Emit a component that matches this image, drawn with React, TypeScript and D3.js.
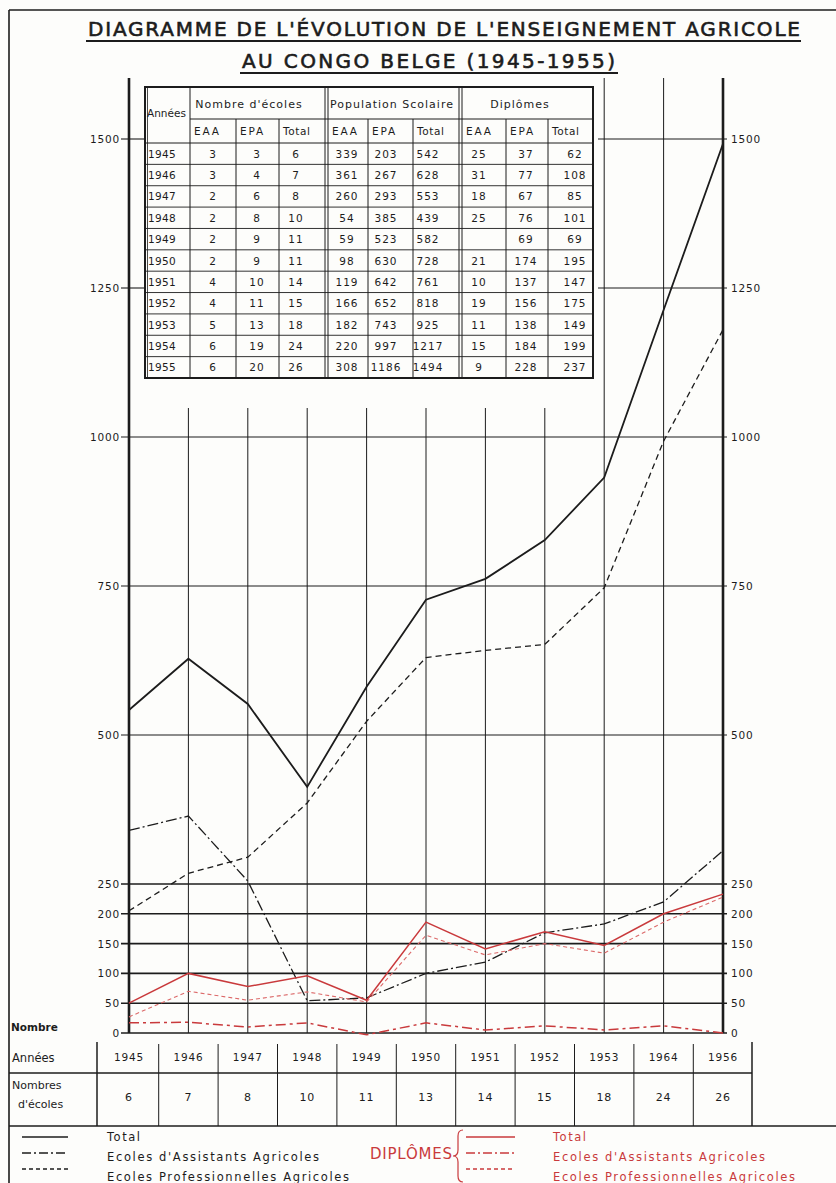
import React from 'react';
import * as d3 from 'd3';

// ---------- DATA ----------
const years = [1945, 1946, 1947, 1948, 1949, 1950, 1951, 1952, 1953, 1954, 1955];
const yearRowLabels = ['1945', '1946', '1947', '1948', '1949', '1950', '1951', '1952', '1953', '1964', '1956'];
const schoolRowCounts = ['6', '7', '8', '10', '11', '13', '14', '15', '18', '24', '26'];

// plotted series
const popTotal = [542, 628, 552, 413, 581, 727, 762, 827, 932, 1213, 1492];
const popEAA = [340, 364, 255, 54, 59, 100, 119, 168, 183, 220, 306];
const popEPA = [205, 268, 295, 386, 523, 630, 642, 652, 747, 993, 1180];
const dipTotal = [50, 100, 78, 96, 55, 186, 141, 170, 147, 200, 233];
const dipEAA = [17, 18, 10, 17, -3, 17, 5, 12, 5, 12, 0];
const dipEPA = [27, 70, 55, 69, 52, 164, 131, 150, 134, 186, 228];

const yTicks = [0, 50, 100, 150, 200, 250, 500, 750, 1000, 1250, 1500];

// table
const tYears = ['1945', '1946', '1947', '1948', '1949', '1950', '1951', '1952', '1953', '1954', '1955'];
const schoolsEAA = ['3', '3', '2', '2', '2', '2', '4', '4', '5', '6', '6'];
const schoolsEPA = ['3', '4', '6', '8', '9', '9', '10', '11', '13', '19', '20'];
const schoolsTot = ['6', '7', '8', '10', '11', '11', '14', '15', '18', '24', '26'];
const pupilsEAA = ['339', '361', '260', '54', '59', '98', '119', '166', '182', '220', '308'];
const pupilsEPA = ['203', '267', '293', '385', '523', '630', '642', '652', '743', '997', '1186'];
const pupilsTot = ['542', '628', '553', '439', '582', '728', '761', '818', '925', '1217', '1494'];
const diplEAA = ['25', '31', '18', '25', '', '21', '10', '19', '11', '15', '9'];
const diplEPA = ['37', '77', '67', '76', '69', '174', '137', '156', '138', '184', '228'];
const diplTot = ['62', '108', '85', '101', '69', '195', '147', '175', '149', '199', '237'];

const groupHeaders = ["Nombre d'écoles", 'Population Scolaire', 'Diplômes'];
const subHeaders = ['EAA', 'EPA', 'Total', 'EAA', 'EPA', 'Total', 'EAA', 'EPA', 'Total'];

// ---------- STYLE ----------
const FONT = '"DejaVu Sans", "Liberation Sans", sans-serif';
const INK = '#1c1c1c';
const RED = '#c93a3c';
const RED_LIGHT = '#dc6a6a';

const W = 836;
const H = 1183;

export default function App() {
  const x = d3.scaleLinear().domain([1945, 1955]).range([129, 723]);
  const y = d3.scaleLinear().domain([0, 1500]).range([1033, 139]);
  const plotTop = 78;

  const line = d3
    .line<number>()
    .x((_, i) => x(years[i]))
    .y((d) => y(d));

  // table geometry
  const colEdges = [145, 190, 236, 279, 325, 368, 413, 459, 506, 548, 590];
  const doubleAt = [325, 459, 590];
  const tTop = 87;
  const h1 = 119;
  const h2 = 143;
  const tBottom = 378;
  const rowH = (tBottom - h2) / tYears.length;
  const columns = [schoolsEAA, schoolsEPA, schoolsTot, pupilsEAA, pupilsEPA, pupilsTot, diplEAA, diplEPA, diplTot];
  const colCenters = [213, 257, 296, 347, 386, 428, 479, 526, 575];
  const tableLeft = colEdges[0];
  const tableRight = colEdges[colEdges.length - 1] + 3;
  const innerStart = [236, 279, 368, 413, 506, 548];

  // bottom strip
  const rowTop = 1042;
  const rowMid = 1073;
  const rowBot = 1126;
  const stripLeft = 97;
  const stripRight = 752;
  const step = x(1946) - x(1945);

  const legendItems = [
    { label: 'Total', dash: 'none' },
    { label: "Ecoles d'Assistants Agricoles", dash: '9 3 2 3' },
    { label: 'Ecoles Professionnelles Agricoles', dash: '4 3' },
  ];
  const legendY = [1137, 1153, 1169];
  const legendTextY = [1141, 1161, 1181];
  const legendTextLen = [34, 213, 243];

  return (
    <svg
      width={W}
      height={H}
      viewBox={`0 0 ${W} ${H}`}
      style={{ position: 'absolute', left: 0, top: 0, display: 'block', background: '#fdfdfb' }}
      fontFamily={FONT}
    >
      <rect x={0} y={0} width={W} height={H} fill="#fdfdfb" />
      {/* page border */}
      <line x1={9} y1={10} x2={W} y2={10} stroke={INK} strokeWidth={1.6} />
      <line x1={9} y1={10} x2={9} y2={H} stroke={INK} strokeWidth={1.6} />

      {/* title */}
      <text x={88} y={36} fontSize={20} fill={INK} stroke={INK} strokeWidth={0.6} textLength={712} lengthAdjust="spacing">
        DIAGRAMME DE L'ÉVOLUTION DE L'ENSEIGNEMENT AGRICOLE
      </text>
      <line x1={86} y1={41} x2={801} y2={41} stroke={INK} strokeWidth={1.8} />
      <text x={242} y={68} fontSize={20} fill={INK} stroke={INK} strokeWidth={0.6} textLength={373} lengthAdjust="spacing">
        AU CONGO BELGE  (1945-1955)
      </text>
      <line x1={240} y1={73} x2={618} y2={73} stroke={INK} strokeWidth={1.8} />

      {/* horizontal gridlines */}
      {yTicks.map((t) => {
        const yy = y(t);
        const covered = yy >= tTop && yy <= tBottom;
        const sw = t <= 250 ? 1.6 : 1.1;
        return (
          <g key={'h' + t}>
            {covered ? (
              <>
                <line x1={121} y1={yy} x2={tableLeft} y2={yy} stroke={INK} strokeWidth={sw} />
                <line x1={tableRight + 5} y1={yy} x2={727} y2={yy} stroke={INK} strokeWidth={sw} />
              </>
            ) : (
              <line x1={121} y1={yy} x2={727} y2={yy} stroke={INK} strokeWidth={sw} />
            )}
            <text x={120} y={yy + 4} fontSize={10.5} textAnchor="end" fill={INK} letterSpacing={0.8}>
              {t}
            </text>
            <text x={731} y={yy + 4} fontSize={10.5} textAnchor="start" fill={INK} letterSpacing={0.8}>
              {t}
            </text>
          </g>
        );
      })}

      {/* vertical gridlines */}
      {years.map((yr, i) => {
        const xx = x(yr);
        const isAxis = i === 0 || i === years.length - 1;
        const underTable = xx > tableLeft && xx < tableRight;
        return (
          <line
            key={'v' + yr}
            x1={xx}
            y1={underTable ? 408 : plotTop}
            x2={xx}
            y2={y(0)}
            stroke={INK}
            strokeWidth={isAxis ? 2.6 : 1}
          />
        );
      })}

      {/* population lines */}
      <path d={line(popTotal) || ''} fill="none" stroke={INK} strokeWidth={1.8} />
      <path d={line(popEAA) || ''} fill="none" stroke={INK} strokeWidth={1.3} strokeDasharray="11 3 2 3" />
      <path d={line(popEPA) || ''} fill="none" stroke={INK} strokeWidth={1.3} strokeDasharray="6 4" />

      {/* diploma lines */}
      <path d={line(dipEPA) || ''} fill="none" stroke={RED_LIGHT} strokeWidth={1.1} strokeDasharray="4 3" />
      <path d={line(dipEAA) || ''} fill="none" stroke={RED} strokeWidth={1.5} strokeDasharray="10 4 3 4" />
      <path d={line(dipTotal) || ''} fill="none" stroke={RED} strokeWidth={1.5} />

      {/* data table */}
      <rect x={tableLeft} y={tTop} width={tableRight - tableLeft} height={tBottom - tTop} fill="#fdfdfb" stroke={INK} strokeWidth={2} />
      <line x1={tableLeft + 2.5} y1={tTop} x2={tableLeft + 2.5} y2={tBottom} stroke={INK} strokeWidth={0.8} />
      {colEdges.slice(1, -1).map((cx) => (
        <line key={'c' + cx} x1={cx} y1={innerStart.includes(cx) ? h1 : tTop} x2={cx} y2={tBottom} stroke={INK} strokeWidth={1} />
      ))}
      {doubleAt.map((cx) => (
        <line key={'d' + cx} x1={cx + 3} y1={tTop} x2={cx + 3} y2={tBottom} stroke={INK} strokeWidth={1} />
      ))}
      <line x1={colEdges[1]} y1={h1} x2={tableRight} y2={h1} stroke={INK} strokeWidth={1} />
      <line x1={tableLeft} y1={h2} x2={tableRight} y2={h2} stroke={INK} strokeWidth={1} />
      {tYears.map((_, r) => (
        <line key={'r' + r} x1={tableLeft} y1={h2 + rowH * (r + 1)} x2={tableRight} y2={h2 + rowH * (r + 1)} stroke={INK} strokeWidth={0.9} />
      ))}
      <text x={147} y={117} fontSize={10.5} fill={INK}>Années</text>
      {groupHeaders.map((g, i) => (
        <text key={g} x={[249, 392, 520][i]} y={108} fontSize={11} textAnchor="middle" fill={INK} letterSpacing={1}>
          {g}
        </text>
      ))}
      {subHeaders.map((s, i) => (
        <text key={'s' + i} x={colEdges[i + 1] + (doubleAt.includes(colEdges[i + 1]) ? 7 : 4)} y={135} fontSize={10.5} fill={INK} letterSpacing={s === 'Total' ? 0.6 : 1.8}>
          {s}
        </text>
      ))}
      {tYears.map((yr, r) => {
        const by = h2 + rowH * r + rowH / 2 + 4;
        return (
          <g key={'row' + yr}>
            <text x={148} y={by} fontSize={10.5} fill={INK} letterSpacing={0.3}>{yr}</text>
            {columns.map((col, c) => (
              <text key={c} x={colCenters[c]} y={by} fontSize={10.5} textAnchor="middle" fill={INK} letterSpacing={1}>
                {col[r]}
              </text>
            ))}
          </g>
        );
      })}

      {/* bottom strip: years and number of schools */}
      <text x={11} y={1031} fontSize={10.5} fontWeight="bold" fill={INK}>Nombre</text>
      <line x1={stripLeft} y1={rowTop} x2={stripLeft} y2={rowBot} stroke={INK} strokeWidth={1.5} />
      <line x1={stripRight} y1={rowTop} x2={stripRight} y2={rowBot} stroke={INK} strokeWidth={1.5} />
      {years.slice(0, -1).map((yr) => (
        <line key={'sep' + yr} x1={x(yr) + step / 2} y1={rowTop + 2} x2={x(yr) + step / 2} y2={rowBot} stroke={INK} strokeWidth={1} />
      ))}
      <line x1={9} y1={rowMid} x2={stripRight} y2={rowMid} stroke={INK} strokeWidth={1.3} />
      <line x1={9} y1={rowBot} x2={W} y2={rowBot} stroke={INK} strokeWidth={1.3} />
      <text x={12} y={1062} fontSize={11.5} fill={INK}>Années</text>
      <text x={12} y={1089} fontSize={11} fill={INK}>Nombres</text>
      <text x={18} y={1108} fontSize={11} fill={INK}>d'écoles</text>
      {years.map((yr, i) => (
        <text key={'yl' + yr} x={x(yr)} y={1061} fontSize={10.5} textAnchor="middle" fill={INK} letterSpacing={0.8}>
          {yearRowLabels[i]}
        </text>
      ))}
      {years.map((yr, i) => (
        <text key={'sc' + yr} x={x(yr)} y={1101} fontSize={11} textAnchor="middle" fill={INK} letterSpacing={0.8}>
          {schoolRowCounts[i]}
        </text>
      ))}

      {/* legend */}
      {legendItems.map((l, i) => (
        <g key={'lb' + i}>
          <line x1={22} y1={legendY[i]} x2={68} y2={legendY[i]} stroke={INK} strokeWidth={1.4} strokeDasharray={l.dash} />
          <text x={107} y={legendTextY[i]} fontSize={11.5} fill={INK} letterSpacing={1} textLength={legendTextLen[i]} lengthAdjust="spacing">
            {l.label}
          </text>
        </g>
      ))}
      <text x={370} y={1159} fontSize={15} fill={RED} textLength={82} lengthAdjust="spacing">DIPLÔMES</text>
      <path d="M 463 1130 q -5 0 -5 6 v 14 q 0 6 -5 6 q 5 0 5 6 v 14 q 0 6 5 6" fill="none" stroke={RED} strokeWidth={1.2} />
      {legendItems.map((l, i) => (
        <g key={'lr' + i}>
          <line x1={466} y1={legendY[i]} x2={515} y2={legendY[i]} stroke={RED} strokeWidth={1.4} strokeDasharray={l.dash} />
          <text x={553} y={legendTextY[i]} fontSize={11.5} fill={RED} letterSpacing={1} textLength={legendTextLen[i]} lengthAdjust="spacing">
            {l.label}
          </text>
        </g>
      ))}
    </svg>
  );
}
